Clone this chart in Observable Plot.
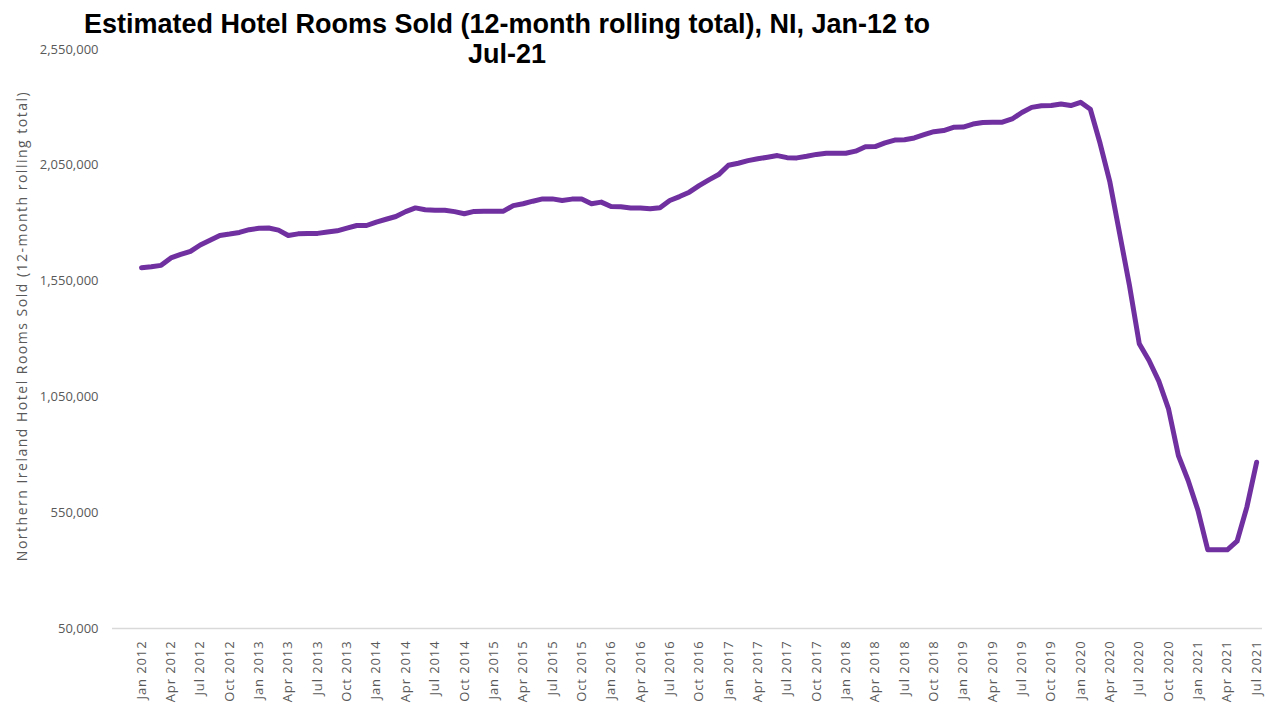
<!DOCTYPE html>
<html><head><meta charset="utf-8">
<script src="https://cdn.jsdelivr.net/npm/d3@7"></script>
<script src="https://cdn.jsdelivr.net/npm/@observablehq/plot@0.6"></script>
<style>
body{margin:0;background:#fff;}
#wrap{position:relative;width:1266px;height:707px;overflow:hidden;}
#title{position:absolute;left:0;top:9px;width:1014px;text-align:center;font:bold 27px "Liberation Sans",Arial,sans-serif;line-height:30px;color:#000;z-index:2;}
#chart{position:absolute;left:0;top:0;}
g[aria-label="x-axis tick label"] text{letter-spacing:0.9px;}
</style></head><body>
<div id="wrap">
<div id="title">Estimated Hotel Rooms Sold (12-month rolling total), NI, Jan-12 to<br>Jul-21</div>
<div id="chart"></div>
</div>
<script>
const monthNames = ["Jan","Feb","Mar","Apr","May","Jun","Jul","Aug","Sep","Oct","Nov","Dec"];
const startYear = 2012;
// Monthly 12-month rolling totals, Jan 2012 .. Jul 2021
const roomsSold = [
  1608000,1612000,1618000,1650000,1665000,1678000,1706000,1726000,1747000,1753000,1760000,1772000, // 2012
  1778000,1779000,1770000,1747000,1754000,1755000,1756000,1762000,1767000,1779000,1790000,1790000, // 2013
  1805000,1817000,1829000,1850000,1866000,1858000,1856000,1856000,1850000,1841000,1851000,1852000, // 2014
  1852000,1852000,1876000,1884000,1895000,1905000,1905000,1898000,1904000,1904000,1884000,1891000, // 2015
  1872000,1871000,1866000,1866000,1862000,1867000,1898000,1915000,1934000,1962000,1987000,2010000, // 2016
  2050000,2059000,2070000,2078000,2085000,2092000,2083000,2082000,2089000,2097000,2102000,2102000, // 2017
  2102000,2111000,2130000,2131000,2147000,2159000,2160000,2168000,2182000,2195000,2200000,2214000, // 2018
  2215000,2228000,2235000,2236000,2236000,2250000,2278000,2300000,2307000,2308000,2315000,2308000, // 2019
  2322000,2292000,2144000,1977000,1754000,1531000,1280000,1207000,1118000,997000,797000,689000,   // 2020
  560000,390000,390000,390000,427000,574000,768000                                                 // 2021
];
const yTicks = [50000,550000,1050000,1550000,2050000,2550000];
const yTitle = "Northern Ireland Hotel Rooms Sold (12-month rolling total)";
const monthLabels = roomsSold.map((_, i) => monthNames[i % 12] + " " + (startYear + Math.floor(i / 12)));
const xTickIdx = monthLabels.map((_, i) => i).filter(i => i % 3 === 0);

const data = roomsSold.map((v, i) => ({i, v}));

const chart = Plot.plot({
  width: 1266,
  height: 707,
  marginLeft: 112,
  marginRight: 4,
  marginTop: 49,
  marginBottom: 79,
  style: {fontFamily: "'Open Sans', sans-serif", fontSize: "13px", color: "#595959", background: "transparent"},
  x: {type: "linear", domain: [-2.97, 114.6]},
  y: {domain: [50000, 2550000]},
  marks: [
    Plot.ruleY([50000], {stroke: "#d9d9d9", strokeWidth: 1.5}),
    Plot.axisY({ticks: yTicks, tickFormat: d3.format(","), tickSize: 0, tickPadding: 14, label: null, fontSize: 13}),
    Plot.axisX({ticks: xTickIdx, tickFormat: i => monthLabels[i], tickRotate: -90, tickSize: 0, tickPadding: 12, label: null, fontSize: 13}),
    Plot.text([yTitle], {frameAnchor: "left", text: d => d, rotate: -90, dx: -90, dy: -13, fontSize: 14, fill: "#595959", textAnchor: "middle", lineAnchor: "middle", style: "letter-spacing:1.5px"}),
    Plot.line(data, {x: "i", y: "v", stroke: "#7030A0", strokeWidth: 5, strokeLinejoin: "round", strokeLinecap: "round"})
  ]
});
chart.querySelectorAll('g[aria-label="text"] text').forEach(t => t.style.letterSpacing = "1.5px");
document.getElementById("chart").appendChild(chart);
</script>
</body></html>
